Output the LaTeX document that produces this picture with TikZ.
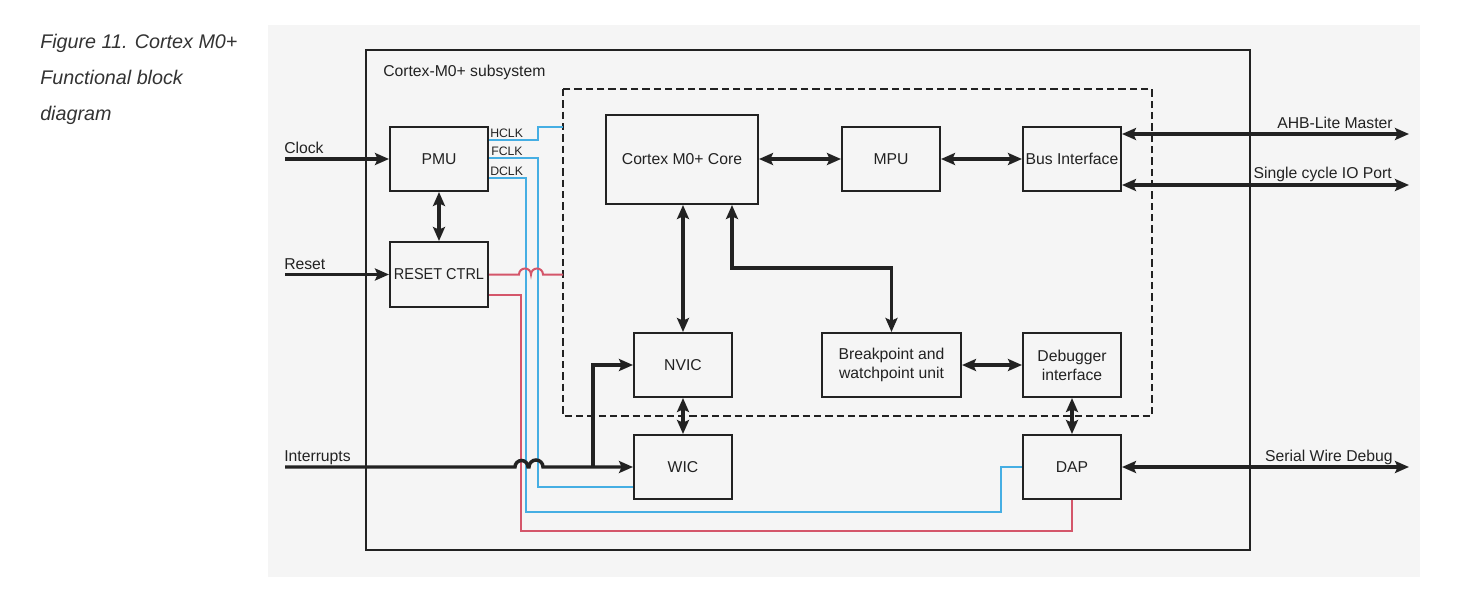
\documentclass[tikz,border=0pt]{standalone}
\usepackage{fontspec}
\usepackage{graphicx}
\setmainfont{Liberation Sans}
\usetikzlibrary{arrows.meta}
\definecolor{bgc}{HTML}{F5F5F5}
\definecolor{ink}{HTML}{222222}
\definecolor{capc}{HTML}{333333}
\definecolor{clkblue}{HTML}{45AEE3}
\definecolor{rstred}{HTML}{D4566A}
\begin{document}
\begin{tikzpicture}[x=0.75pt,y=-0.75pt,
  >={Stealth[length=10.5pt,width=9pt,inset=2pt]},
  box/.style={draw=ink, line width=1.5pt, inner sep=0pt, text=ink, align=center,
    font=\fontsize{11.8pt}{14.25pt}\selectfont, minimum width=73.5pt, minimum height=48pt},
  lbl/.style={inner sep=0pt, text=ink, font=\fontsize{11.8pt}{14.25pt}\selectfont},
  sig/.style={inner sep=0pt, text=ink, font=\fontsize{9.2pt}{10pt}\selectfont},
  captxt/.style={anchor=base west, inner sep=0pt, text=capc, font=\fontsize{14.8pt}{18pt}\selectfont\itshape},
  oneway/.style={draw=ink, line width=2.6pt, ->},
  twoway/.style={draw=ink, line width=2.6pt, <->},
  blueline/.style={draw=clkblue, line width=1.5pt},
  redline/.style={draw=rstred, line width=1.5pt},
  frame/.style={draw=ink, line width=1.5pt},
  dashframe/.style={draw=ink, line width=1.3pt, dash pattern=on 5.5pt off 3pt}]
\useasboundingbox (0,0) rectangle (1465,608);
\fill[bgc] (268,25) rectangle (1420,577);
\draw[frame] (366,50) rectangle (1250,550);
\draw[dashframe] (563,89) rectangle (1152,416);

\node[captxt] (cap1) at (40,48) {Figure 11. Cortex M0+};
\node[captxt] (cap2) at (40,84) {Functional block};
\node[captxt] (cap3) at (40,120) {diagram};
\node[lbl, anchor=base west] (sub) at (383,76) {Cortex-M0+ subsystem};

% blocks
\node[box] (pmu) at (439,159) {PMU};
\node[box, minimum height=48.75pt] (reset) at (439,274.5) {\scalebox{0.92}[1]{RESET CTRL}};
\node[box, minimum width=114pt, minimum height=66.75pt] (core) at (682,159.5) {Cortex M0+ Core};
\node[box] (mpu) at (891,159) {MPU};
\node[box] (bus) at (1072,159) {Bus Interface};
\node[box] (nvic) at (683,365) {NVIC};
\node[box, minimum width=104.25pt] (bw) at (891.5,365) {Breakpoint and\\watchpoint unit};
\node[box] (dbg) at (1072,365) {Debugger\\interface};
\node[box] (wic) at (683,467) {WIC};
\node[box] (dap) at (1072,467) {DAP};

% free ends
\coordinate (clk) at (285,159);
\coordinate (rst) at (285,274.5);
\coordinate (irq) at (285,467);
\coordinate (ahb) at (1409,134);
\coordinate (sio) at (1409,185);
\coordinate (swd) at (1409,467);
\coordinate (hin) at (563,127);
\coordinate (rin) at (563,274.5);
\coordinate (br) at (593,467);
\coordinate (bend) at (891.5,268);

% external labels
\node[lbl, anchor=base west] (clklbl) at (284,153) {Clock};
\node[lbl, anchor=base west] (rstlbl) at (284,269) {Reset};
\node[lbl, anchor=base west] (irqlbl) at (284,461) {Interrupts};
\node[lbl, anchor=base east] (ahblbl) at (1393,128) {AHB-Lite Master};
\node[lbl, anchor=base east] (siolbl) at (1392,178) {Single cycle IO Port};
\node[lbl, anchor=base east] (swdlbl) at (1393,461) {Serial Wire Debug};

% clock lines
\draw[blueline] ([yshift=14.25pt]pmu.east) -- ++(49,0) |- (hin);
\draw[blueline] ([yshift=0.75pt]pmu.east) -- ++(49,0) |- ([yshift=-15pt]wic.west);
\draw[blueline] ([yshift=-14.25pt]pmu.east) -- ++(37,0) |- (1001,512) |- (dap.west);
\node[sig, anchor=base west] (hclk) at (490,137) {HCLK};
\node[sig, anchor=base west] (fclk) at (491,155) {FCLK};
\node[sig, anchor=base west] (dclk) at (490,175) {DCLK};

% reset lines
\draw[redline] (reset.east) -- (519,274.5) arc[start angle=180,end angle=360,radius=6]
  -- (531,274.5) arc[start angle=180,end angle=360,radius=6] -- (rin);
\draw[redline] ([yshift=-15pt]reset.east) -- ++(32,0) |- (1072,531) -- (dap.south);

% black connections
\draw[oneway] (clk) -- (pmu.west);
\draw[oneway] (rst) -- (reset.west);
\draw[oneway] (irq) -- (515,467) arc[start angle=180,end angle=360,radius=6.5]
  -- (529,467) arc[start angle=180,end angle=360,radius=7] -- (wic.west);
\draw[oneway] (br) |- (nvic.west);
\draw[twoway] (pmu.south) -- (reset.north);
\draw[twoway] (core.east |- mpu.west) -- (mpu.west);
\draw[twoway] (mpu.east) -- (bus.west);
\draw[twoway] ([yshift=18.75pt]bus.east) -- (ahb);
\draw[twoway] ([yshift=-19.5pt]bus.east) -- (sio);
\draw[twoway] (nvic.north) -- (nvic.north |- core.south);
\draw[twoway] ([xshift=37.5pt]core.south) |- (bend) -- (bw.north);
\draw[twoway] (bw.east) -- (dbg.west);
\draw[twoway] (dbg.south) -- (dap.north);
\draw[twoway] (nvic.south) -- (wic.north);
\draw[twoway] (dap.east) -- (swd);
\end{tikzpicture}
\end{document}
